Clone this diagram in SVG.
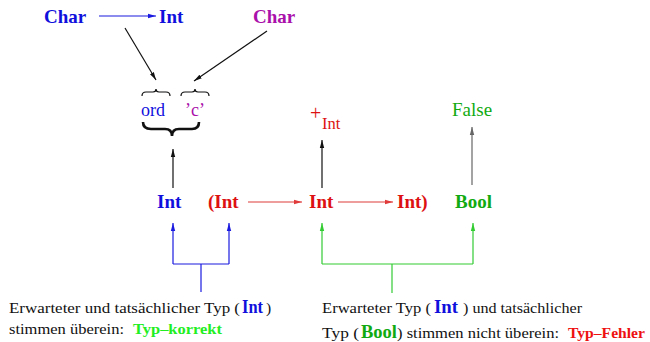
<svg xmlns="http://www.w3.org/2000/svg" width="650" height="342" viewBox="0 0 650 342">
<defs>
<style>
text{font-family:"Liberation Serif","Times New Roman",serif}
.b{font-weight:bold}
.blue{fill:#1010dd}
.red{fill:#dd1111}
.grn{fill:#11aa11}
.mag{fill:#aa10aa}
.lime{fill:#22ee22}
.blk{fill:#111}
.n{font-size:15.5px}
.ln{fill:none;stroke-width:1.2}
</style>
<marker id="ak" markerUnits="userSpaceOnUse" markerWidth="9" markerHeight="6" refX="8" refY="3" orient="auto"><path d="M0,0.8 L8,3 L0,5.2 z" fill="#111"/></marker>
<marker id="ag" markerUnits="userSpaceOnUse" markerWidth="9" markerHeight="6" refX="8" refY="3" orient="auto"><path d="M0,0.8 L8,3 L0,5.2 z" fill="#666"/></marker>
<marker id="ab" markerUnits="userSpaceOnUse" markerWidth="9" markerHeight="6" refX="8" refY="3" orient="auto"><path d="M0,0.8 L8,3 L0,5.2 z" fill="#1a1ae0"/></marker>
<marker id="ar" markerUnits="userSpaceOnUse" markerWidth="9" markerHeight="6" refX="8" refY="3" orient="auto"><path d="M0,0.8 L8,3 L0,5.2 z" fill="#e03a3a"/></marker>
<marker id="agr" markerUnits="userSpaceOnUse" markerWidth="9" markerHeight="6" refX="8" refY="3" orient="auto"><path d="M0,0.8 L8,3 L0,5.2 z" fill="#33cc33"/></marker>
</defs>
<rect width="650" height="342" fill="#fff"/>

<g id="connectors">
<line class="ln" x1="99" y1="16" x2="156" y2="16" stroke="#1a1ae0" marker-end="url(#ab)"/>
<line class="ln" x1="125" y1="28" x2="156" y2="80" stroke="#111" marker-end="url(#ak)"/>
<line class="ln" x1="267" y1="31" x2="194" y2="81" stroke="#111" marker-end="url(#ak)"/>
<line class="ln" x1="173" y1="188" x2="173" y2="149" stroke="#111" marker-end="url(#ak)"/>
<line class="ln" x1="322" y1="188" x2="322" y2="140" stroke="#111" marker-end="url(#ak)"/>
<line class="ln" x1="472" y1="185" x2="472" y2="127" stroke="#666" stroke-width="1.5" marker-end="url(#ag)"/>
<line class="ln" x1="248" y1="202" x2="302" y2="202" stroke="#e03a3a" marker-end="url(#ar)"/>
<line class="ln" x1="338" y1="202" x2="393" y2="202" stroke="#e03a3a" marker-end="url(#ar)"/>
<polyline class="ln" points="173,264 173,223" stroke="#1a1ae0" marker-end="url(#ab)"/>
<polyline class="ln" points="229,264 229,223" stroke="#1a1ae0" marker-end="url(#ab)"/>
<polyline class="ln" points="173,264 229,264" stroke="#1a1ae0"/>
<line class="ln" x1="201" y1="264" x2="201" y2="292" stroke="#1a1ae0"/>
<polyline class="ln" points="322,264 322,223" stroke="#33cc33" marker-end="url(#agr)"/>
<polyline class="ln" points="473,264 473,223" stroke="#33cc33" marker-end="url(#agr)"/>
<polyline class="ln" points="322,264 473,264" stroke="#33cc33"/>
<line class="ln" x1="392" y1="264" x2="392" y2="293" stroke="#33cc33" stroke-width="1.5"/>
</g>

<g id="char1"><text x="44" y="23" font-size="19" class="b blue">Char</text></g>
<g id="int1"><text x="159" y="23" font-size="19" class="b blue">Int</text></g>
<g id="char2"><text x="253" y="23" font-size="19" class="b mag">Char</text></g>

<g id="braces">
<path d="M142,96 Q142,92 146,92 L153,92 Q156,92 156,89 Q156,92 159,92 L166,92 Q170,92 170,96" fill="none" stroke="#111" stroke-width="1.2"/>
<path d="M181,96 Q181,92 185,92 L192,92 Q195,92 195,89 Q195,92 198,92 L205,92 Q209,92 209,96" fill="none" stroke="#111" stroke-width="1.2"/>
<path d="M143,122 Q143,129 151,129 L165,129 Q172,129 172,136 Q172,129 179,129 L192,129 Q199,129 199,122" fill="none" stroke="#111" stroke-width="2.6"/>
</g>
<g id="ord"><text x="141" y="116" font-size="18" class="blue">ord</text></g>
<g id="c"><text x="185" y="116" font-size="18" class="mag">’c’</text></g>

<g id="plusInt"><text x="310" y="120" font-size="20" class="red">+</text><text x="322" y="129" font-size="16.5" class="red">Int</text></g>
<g id="false"><text x="452" y="116" font-size="19" class="grn">False</text></g>

<g id="intB"><text x="157" y="208" font-size="19" class="b blue">Int</text></g>
<g id="intR1"><text x="208" y="208" font-size="19" class="b red">(Int</text></g>
<g id="intR2"><text x="309" y="208" font-size="19" class="b red">Int</text></g>
<g id="intR3"><text x="397" y="208" font-size="19" class="b red">Int)</text></g>
<g id="bool"><text x="455" y="208" font-size="19" class="b grn">Bool</text></g>

<g id="noteLeft">
<text x="9" y="313" class="n blk" textLength="231" lengthAdjust="spacingAndGlyphs">Erwarteter und tatsächlicher Typ (</text>
<text x="242" y="313" font-size="18" class="b blue" textLength="21" lengthAdjust="spacingAndGlyphs">Int</text>
<text x="266" y="313" class="n blk">)</text>
<text x="9" y="334" class="n blk" textLength="115" lengthAdjust="spacingAndGlyphs">stimmen überein:</text>
<text x="133" y="334" font-size="15" class="b lime" textLength="89" lengthAdjust="spacingAndGlyphs">Typ–korrekt</text>
</g>
<g id="noteRight">
<text x="322" y="313" class="n blk" textLength="109" lengthAdjust="spacingAndGlyphs">Erwarteter Typ (</text>
<text x="434" y="313" font-size="19" class="b blue" textLength="24" lengthAdjust="spacingAndGlyphs">Int</text>
<text x="463" y="313" class="n blk" textLength="119" lengthAdjust="spacingAndGlyphs">) und tatsächlicher</text>
<text x="322" y="338" class="n blk" textLength="37" lengthAdjust="spacingAndGlyphs">Typ (</text>
<text x="361" y="338" font-size="19" class="b grn" textLength="36" lengthAdjust="spacingAndGlyphs">Bool</text>
<text x="397" y="338" class="n blk" textLength="162" lengthAdjust="spacingAndGlyphs">) stimmen nicht überein:</text>
<text x="568" y="338" font-size="15" class="b" fill="#ee1111" textLength="77" lengthAdjust="spacingAndGlyphs">Typ–Fehler</text>
</g>
</svg>
